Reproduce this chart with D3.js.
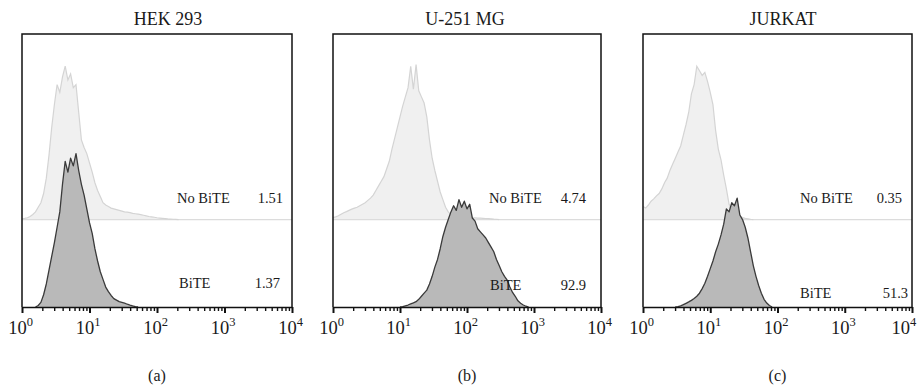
<!DOCTYPE html>
<html><head><meta charset="utf-8">
<script src="https://cdn.jsdelivr.net/npm/d3@7"></script>
<style>
body{margin:0;background:#fff}
svg text{font-family:"Liberation Serif","DejaVu Serif",serif;fill:#1a1a1a}
</style>
</head><body>
<svg id="chart" width="918" height="387"></svg>
<script>
// ---------- data ----------
const panelTitles = ["HEK 293", "U-251 MG", "JURKAT"];
const panelLetters = ["(a)", "(b)", "(c)"];
const seriesNames = ["No BiTE", "BiTE"];
const noBiteValues = ["1.51", "4.74", "0.35"];
const biteValues = ["1.37", "92.9", "51.3"];
const tickExponents = [0, 1, 2, 3, 4];
const binStep = 0.04; // histogram bin width in decades

// normalized event counts (peak ~100), bins start at the given log10 value
const hekNoBiteStart = 0.00;
const hekNoBite = [0.5,0.8,1.2,2,3.3,5,8,11,17,27,42,60,75,88,83,93,100,91,95,86,88,70,52,47,43,37,31,24,19,15,11,9.5,8.5,7.5,7,6.5,6,5.5,5,4.8,4.5,4,3.8,3.5,3.2,2.8,2.4,2,1.8,1.5,1.2,1,0.8,0.6,0.4,0.3,0.2,0.1,0];
const hekBiteStart = 0.20;
const hekBite = [0,1,3,8,15,24,33,42,52,62,80,95,88,97,92,100,89,80,73,64,55,48,38,30,23,18,13,10,7.5,5.5,4.5,3.5,3,2.5,1.8,1.2,0.7,0.3,0];
const u251NoBiteStart = 0.00;
const u251NoBite = [1.3,1.8,2.5,3.5,4.5,5.2,6,6.8,7.5,8,9,10,11,12.5,14,16,19,22,25,28,33,38,46,53,60,67,74,80,86,100,85,101,84,80,76,67,52,40,32,25,18,13,8,5,3.5,2.7,2.2,1.8,1.6,1.5,1.4,1.3,1.2,1.1,1,0.9,0.8,0.7,0.6,0.5,0.3,0.2,0];
const u251BiteStart = 1.00;
const u251Bite = [0,0.3,0.8,1.3,2,2.7,3.5,5,7,9,11,15,20,26,31,38,46,52,57,62,66,63,70,65,69,64,67,58,56,51,49,47,45,42,39,36,31,27,23,20,17.5,13,9.5,7,4,2.5,1.3,0.5,0];
const jurkatNoBiteStart = 0.00;
const jurkatNoBite = [8.5,7.5,9.5,12,13.5,15.5,17,20,24,27,32,36,40,44,48,55,62,70,82,88,100,97,94,96,90,83,75,58,46,39,29,20,10,6,4,3,2,1.3,0.8,0.5,0.2,0];
const jurkatBiteStart = 0.48;
const jurkatBite = [0,0.3,0.8,1.5,2.4,3.3,4.3,5.5,7,9,12,15.5,20,25,30,36,41,47,54,64,62,68,66,71,60,57,52,45,36,27,20,14,9,5,2.6,1,0];

const noBiteSeries = [[hekNoBiteStart, hekNoBite], [u251NoBiteStart, u251NoBite], [jurkatNoBiteStart, jurkatNoBite]];
const biteSeries = [[hekBiteStart, hekBite], [u251BiteStart, u251Bite], [jurkatBiteStart, jurkatBite]];
const noBiteOffset = 57; // vertical stacking offset (count units)

// ---------- layout ----------
const layout = [
  {left: 22, right: 292, titleX: 168, nbLab: 177, nbVal: 283, bLab: 179, bLabY: 288, bVal: 280},
  {left: 333, right: 601, titleX: 465, nbLab: 489, nbVal: 586, bLab: 490, bLabY: 290, bVal: 586},
  {left: 643, right: 912, titleX: 783, nbLab: 800, nbVal: 902, bLab: 800, bLabY: 298, bVal: 908}
];
const plotTop = 34, plotBottom = 307;

const svg = d3.select("#chart");
const y = d3.scaleLinear().domain([0, 178]).range([plotBottom, plotTop]);

function toPoints(start, counts) {
  return counts.map((c, i) => ({v: Math.pow(10, start + i * binStep), c}));
}

layout.forEach((L, p) => {
  const x = d3.scaleLog().domain([1, 1e4]).range([L.left, L.right]);
  const g = svg.append("g");

  // No BiTE (upper, light)
  const nb = toPoints(noBiteSeries[p][0], noBiteSeries[p][1]);
  const areaNB = d3.area().x(d => x(d.v)).y0(y(noBiteOffset)).y1(d => y(noBiteOffset + d.c));
  const lineNB = d3.line().x(d => x(d.v)).y(d => y(noBiteOffset + d.c));
  g.append("path").attr("d", areaNB(nb)).attr("fill", "#f0f0f0");
  g.append("line").attr("x1", L.left).attr("x2", L.right)
    .attr("y1", y(noBiteOffset)).attr("y2", y(noBiteOffset))
    .attr("stroke", "#dcdcdc").attr("stroke-width", 1.2);
  g.append("path").attr("d", lineNB(nb)).attr("fill", "none")
    .attr("stroke", "#d4d4d4").attr("stroke-width", 1.2);

  // BiTE (lower, dark)
  const b = toPoints(biteSeries[p][0], biteSeries[p][1]);
  const areaB = d3.area().x(d => x(d.v)).y0(y(0)).y1(d => y(d.c));
  const lineB = d3.line().x(d => x(d.v)).y(d => y(d.c));
  g.append("path").attr("d", areaB(b)).attr("fill", "#b9b9b9");
  g.append("path").attr("d", lineB(b)).attr("fill", "none")
    .attr("stroke", "#3a3a3a").attr("stroke-width", 1.3).attr("stroke-linejoin", "round");

  // frame (top, left, right)
  g.append("path")
    .attr("d", `M${L.left},${plotBottom}V${plotTop}H${L.right}V${plotBottom}`)
    .attr("fill", "none").attr("stroke", "#111").attr("stroke-width", 1.5);

  // axis
  const majorVals = tickExponents.map(e => Math.pow(10, e));
  const minor = x.ticks().filter(v => !majorVals.some(m => Math.abs(m - v) < 1e-6));
  const axMinor = g.append("g").attr("transform", `translate(0,${plotBottom})`)
    .call(d3.axisBottom(x).tickValues(minor).tickSize(4).tickFormat(""));
  axMinor.select(".domain").remove();
  axMinor.selectAll(".tick line").attr("stroke", "#111").attr("stroke-width", 1.4);
  const axMajor = g.append("g").attr("transform", `translate(0,${plotBottom})`)
    .call(d3.axisBottom(x).tickValues(majorVals).tickSize(6).tickSizeOuter(0).tickFormat(""));
  axMajor.select(".domain").attr("stroke", "#111").attr("stroke-width", 1.5);
  axMajor.selectAll(".tick line").attr("stroke", "#111").attr("stroke-width", 2);

  // tick labels 10^n
  tickExponents.forEach(e => {
    const t = g.append("text").attr("x", x(Math.pow(10, e)) - 1.5).attr("y", 334)
      .attr("text-anchor", "middle").attr("font-size", 18.5);
    t.append("tspan").text("10");
    t.append("tspan").attr("font-size", 12.5).attr("dy", -8.5).text(e);
    const bb = t.node().getBBox();
    if (bb.x + bb.width > 917) t.attr("x", +t.attr("x") - (bb.x + bb.width - 917));
  });

  // titles & panel letters
  g.append("text").attr("x", L.titleX).attr("y", 25).attr("text-anchor", "middle")
    .attr("font-size", 18).text(panelTitles[p]);
  g.append("text").attr("x", (L.left + L.right) / 2).attr("y", 381).attr("text-anchor", "middle")
    .attr("font-size", 16).text(panelLetters[p]);

  // annotations
  g.append("text").attr("x", L.nbLab).attr("y", 203).attr("font-size", 14.5).text(seriesNames[0]);
  g.append("text").attr("x", L.nbVal).attr("y", 203).attr("text-anchor", "end").attr("font-size", 14.5).text(noBiteValues[p]);
  g.append("text").attr("x", L.bLab).attr("y", L.bLabY).attr("font-size", 14.5).text(seriesNames[1]);
  g.append("text").attr("x", L.bVal).attr("y", L.bLabY).attr("text-anchor", "end").attr("font-size", 14.5).text(biteValues[p]);
});
</script>
</body></html>
